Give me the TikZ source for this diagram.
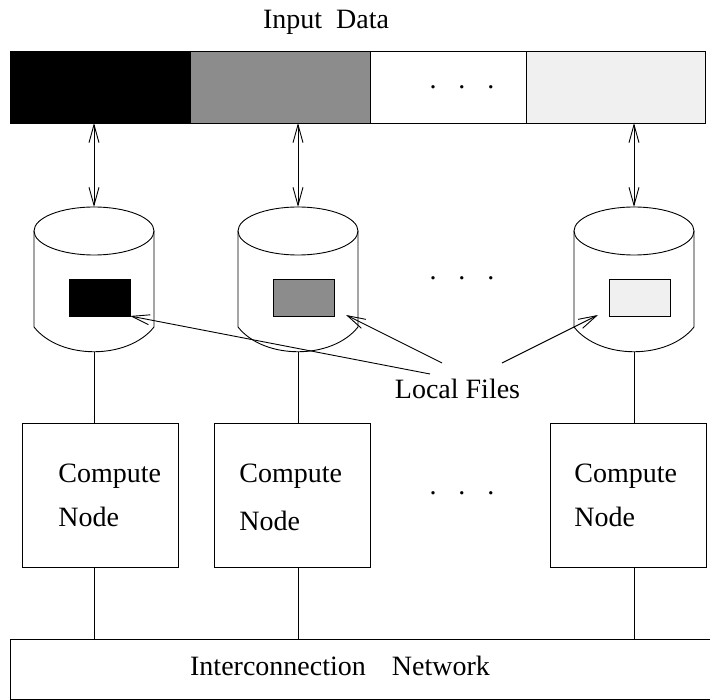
\documentclass[tikz,border=0pt]{standalone}
\usepackage{fontspec}
\setmainfont{Liberation Serif}
\usetikzlibrary{arrows.meta}
\definecolor{midgray}{RGB}{140,140,140}
\definecolor{palegray}{RGB}{240,240,240}
\begin{document}
\begin{tikzpicture}[x=1pt,y=-1pt,line width=0.9pt,
  every node/.style={font=\fontsize{28}{34}\selectfont},
  seg/.style={draw,inner sep=0pt,outer sep=0pt,minimum height=72pt},
  filebox/.style={draw,inner sep=0pt,outer sep=0pt,minimum width=61pt,minimum height=37pt},
  cbox/.style={draw,inner sep=0pt,outer sep=0pt,minimum width=156pt,minimum height=144pt},
  lbl/.style={inner sep=0pt,anchor=base west},
  dotrow/.style={inner sep=0pt},
  barb/.tip={Straight Barb[length=18pt,width=10pt]},
  dbl/.style={barb-barb},
  onearrow/.style={-barb}]
\useasboundingbox (0,0) rectangle (710,700);
\fill[white] (0,0) rectangle (710,700);

% title
\node[inner sep=0pt,anchor=base] (title) at (326,29) {Input\hspace{7pt} Data};

% input data bar
\node[seg,fill=black,minimum width=180pt] (d1) at (100,87) {};
\node[seg,fill=midgray,minimum width=180pt] (d2) at (280,87) {};
\node[seg,fill=white,minimum width=156pt] (d3) at (448,87) {};
\node[seg,fill=palegray,minimum width=179pt] (d4) at (615.5,87) {};
\node[dotrow] (dots1) at (462,87) {.\hspace{22pt}.\hspace{22pt}.};

% cylinders (local disks)
\foreach \x/\i/\c/\dx in {94/1/black/5.5, 298/2/midgray/6, 634/3/palegray/5.5}{
  \draw (\x-60,231) -- (\x-60,327) .. controls (\x-34,360) and (\x+34,360) .. (\x+60,327) -- (\x+60,231);
  \draw (\x,231) ellipse [x radius=60, y radius=24];
  \coordinate (ct\i) at (\x,207);
  \coordinate (cb\i) at (\x,352);
  \node[filebox,fill=\c] (r\i) at (\x+\dx,297.5) {};
}
\node[dotrow] (dots2) at (462,278) {.\hspace{22pt}.\hspace{22pt}.};

% arrows between input data and disks
\draw[dbl] (d1.south -| ct1) -- (ct1);
\draw[dbl] (d2.south -| ct2) -- (ct2);
\draw[dbl] (d4.south -| ct3) -- (ct3);

% local files label and arrows
\node[inner sep=0pt,anchor=base] (lf) at (457.5,399) {Local Files};
\coordinate (lfa) at (430,374);
\coordinate (lfb) at (442,363);
\coordinate (lfc) at (502,363);
\coordinate (tip2) at (346,315);
\coordinate (tip3) at (598,315);
\draw[onearrow] (lfa) -- (r1.south east);
\draw[onearrow] (lfb) -- (tip2);
\draw[onearrow] (lfc) -- (tip3);

% compute nodes
\node[cbox] (c1) at (100,495) {};
\node[cbox] (c2) at (292,495) {};
\node[cbox] (c3) at (628,495) {};
\node[lbl] (c1a) at (58,483) {Compute};
\node[lbl] (c1b) at (58,527) {Node};
\node[lbl] (c2a) at (239,483) {Compute};
\node[lbl] (c2b) at (239,531) {Node};
\node[lbl] (c3a) at (574,483) {Compute};
\node[lbl] (c3b) at (574,527) {Node};
\node[dotrow] (dots3) at (462,493) {.\hspace{22pt}.\hspace{22pt}.};

% disk to compute links
\draw (cb1) -- (c1.north -| cb1);
\draw (cb2) -- (c2.north -| cb2);
\draw (cb3) -- (c3.north -| cb3);

% network
\node[draw,inner sep=0pt,outer sep=0pt,minimum width=702pt,minimum height=60pt] (net) at (361,669) {};
\node[inner sep=0pt,anchor=base] (netl) at (340,675) {Interconnection\hspace{19pt} Network};
\draw (c1.south -| cb1) -- (net.north -| cb1);
\draw (c2.south -| cb2) -- (net.north -| cb2);
\draw (c3.south -| cb3) -- (net.north -| cb3);
\end{tikzpicture}
\end{document}
